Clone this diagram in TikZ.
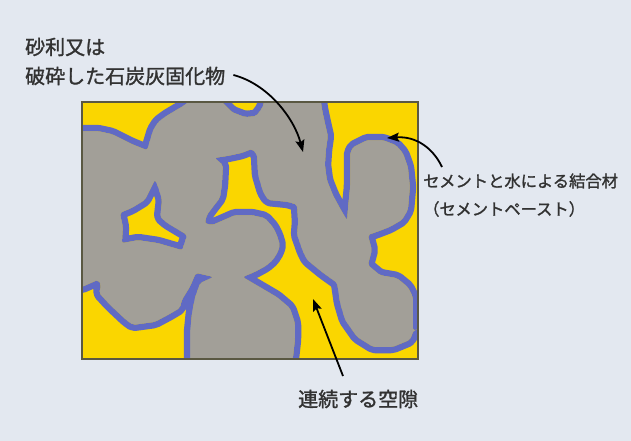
\documentclass[tikz,border=0pt]{standalone}
\usepackage{fontspec}
\newfontfamily\jpfont[FakeBold=1.4]{Noto Sans CJK JP}
\usetikzlibrary{arrows.meta,calc}

\definecolor{bgcol}{RGB}{227,232,240}
\definecolor{voidyellow}{RGB}{250,214,0}
\definecolor{gravelgray}{RGB}{162,159,152}
\definecolor{pasteblue}{RGB}{96,106,196}
\definecolor{framecol}{RGB}{90,88,66}
\definecolor{labelcol}{RGB}{50,50,50}

\tikzset{
  % outline of each void (follows the surface of the surrounding grains)
  voidA/.style={insert path={(72,92) -- (188,92) -- (188,102) -- (183,106) -- (176,110) -- (166,116) -- (158,122) -- (153,130) -- (150,140) -- (147,150) -- (142,148) -- (132,144) -- (122,139) -- (112,134) -- (98,131) -- (72,131) -- cycle}},
  voidB/.style={insert path={(222,92) -- (222,102) -- (226,106) -- (232,112) -- (245,117) -- (256,116) -- (262,108) -- (264,102) -- (266,92) -- cycle}},
  voidC/.style={insert path={(321,92) -- (428,92) -- (428,330) -- (413,330) -- (413,310) -- (413,297) -- (408,287) -- (397,278) -- (380,275) -- (368,265) -- (372,250) -- (368,235) -- (377,232) -- (390,227) -- (402,220) -- (408,210) -- (410,187) -- (408,167) -- (403,153) -- (396,145) -- (383,140) -- (367,140) -- (353,147) -- (350,153) -- (350,187) -- (348,207) -- (347,220) -- (340,208) -- (333,195) -- (327,180) -- (325,165) -- (326,150) -- (328,136) -- (325,123) -- (322,109) -- (321,102) -- cycle}},
  voidD/.style={insert path={(215,158) -- (228,156) -- (242,153) -- (252,149) -- (257,155) -- (258,175) -- (263,192) -- (268,200) -- (288,202) -- (297,205) -- (298,222) -- (297,235) -- (303,252) -- (307,260) -- (323,273) -- (337,283) -- (340,303) -- (345,320) -- (357,337) -- (373,347) -- (393,347) -- (410,340) -- (414,330) -- (428,328) -- (428,370) -- (290,370) -- (293,358) -- (295,340) -- (295,323) -- (290,308) -- (277,297) -- (260,287) -- (248,280) -- (243,277) -- (255,272) -- (266,266) -- (273,260) -- (278,252) -- (280,245) -- (277,235) -- (273,227) -- (265,218) -- (252,215) -- (235,215) -- (212,225) -- (205,223) -- (207,215) -- (213,207) -- (220,198) -- (222,185) -- (223,165) -- cycle}},
  voidE/.style={insert path={(155,180) -- (158,187) -- (162,200) -- (160,217) -- (167,223) -- (182,232) -- (187,235) -- (182,250) -- (158,243) -- (138,240) -- (122,243) -- (123,227) -- (120,213) -- (132,208) -- (145,200) -- cycle}},
  voidF/.style={insert path={(72,287) -- (82,287) -- (98,280) -- (101,285) -- (99,293) -- (110,305) -- (126,320) -- (133,325) -- (155,322) -- (170,314) -- (180,308) -- (182,300) -- (190,287) -- (196,273) -- (213,277) -- (200,283) -- (195,297) -- (192,312) -- (190,332) -- (190,358) -- (190,370) -- (72,370) -- cycle}},
  pastefilm/.style={draw=pasteblue, line width=12.5pt, line join=round, rounded corners=2pt},
  voidfill/.style={fill=voidyellow, rounded corners=2pt},
  pointer/.style={draw=black, line width=1.8pt, -{Stealth[length=12pt,width=9pt,inset=2pt]}},
  biglabel/.style={text=labelcol, inner sep=0pt, font=\jpfont\fontsize{20}{24}\selectfont},
  sidelabel/.style={text=labelcol, inner sep=0pt, font=\jpfont\fontsize{16.3}{20}\selectfont}
}

\newcommand{\drawvoid}[1]{%
  \begin{scope}
    \clip[rounded corners=2pt, #1];
    \fill[voidfill, #1];
    \draw[pastefilm, #1];
  \end{scope}}

\begin{document}
\begin{tikzpicture}[x=1pt,y=-1pt]
  % canvas
  \fill[bgcol] (0,0) rectangle (631,441);
  \useasboundingbox (0,0) rectangle (631,441);

  % concrete section: grains everywhere, voids cut out
  \begin{scope}
    \clip (82,102) rectangle (418,359);
    \fill[gravelgray] (82,102) rectangle (418,359);
    \drawvoid{voidA}
    \drawvoid{voidB}
    \drawvoid{voidC}
    \drawvoid{voidD}
    \drawvoid{voidE}
    \drawvoid{voidF}
  \end{scope}
  \draw[framecol, line width=1.2pt] (82,102) rectangle (418,359);

  % labels
  \node[biglabel, anchor=west] (lblTop1) at (25,47) {砂利又は};
  \node[biglabel, anchor=west] (lblTop2) at (25,76) {破砕した石炭灰固化物};
  \node[sidelabel, anchor=west] (lblR1) at (423,181) {セメントと水による結合材};
  \node[sidelabel, anchor=west] (lblR2) at (423,209) {（セメントペースト）};
  \node[biglabel, anchor=west] (lblB) at (298,399) {連続する空隙};

  % arrow targets inside the section
  \coordinate (grain) at (303,152);
  \coordinate (paste) at (387,138);
  \coordinate (void) at (313,299);
  \coordinate (srcA) at ($(lblTop2.east)+(8,-1)$);
  \coordinate (srcB) at (442,167);
  \coordinate (srcC) at (343,376);

  \draw[pointer] (srcA) .. controls (268,84) and (294,118) .. (grain);
  \draw[pointer] (srcB) .. controls (433,148) and (416,136) .. (paste);
  \draw[pointer] (srcC) -- (void);
\end{tikzpicture}
\end{document}
